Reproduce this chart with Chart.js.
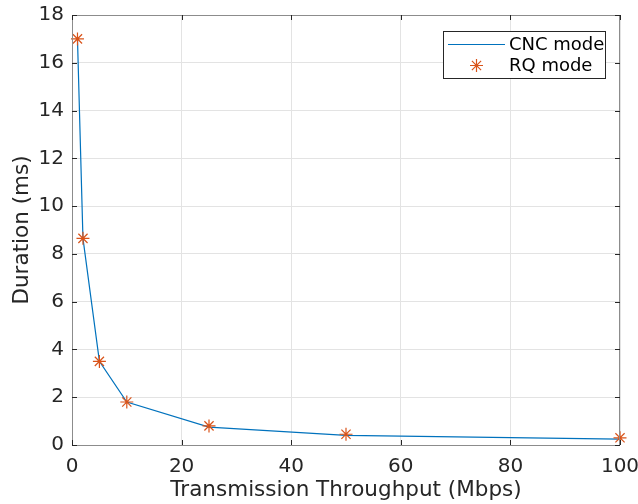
<!DOCTYPE html>
<html>
<head>
<meta charset="utf-8">
<script src="https://cdn.jsdelivr.net/npm/chart.js@4"></script>
<style>
  body { margin: 0; background: #fff; }
  canvas { display: block; }
</style>
</head>
<body>
<canvas id="duration_chart" width="638" height="504"></canvas>
<script>
// throughput in Mbps, duration in ms
const throughput = [1, 2, 5, 10, 25, 50, 100];
const cncDuration = [17, 8.65, 3.5, 1.8, 0.75, 0.4, 0.25];
const rqDuration = [17, 8.65, 3.5, 1.8, 0.8, 0.45, 0.3];
const xTicks = [0, 20, 40, 60, 80, 100];
const yTicks = [0, 2, 4, 6, 8, 10, 12, 14, 16, 18];

const textColor = '#262626';
const font = 'DejaVu Sans';

const toPoints = (xs, ys) => xs.map((x, i) => ({x: x, y: ys[i]}));

/* box round the axes + inward tick marks like MATLAB */
const axesBox = {
    id: 'axesBox',
    afterDatasetsDraw(chart) {
        const {ctx, chartArea: a, scales: {x, y}} = chart;
        ctx.save();
        ctx.strokeStyle = '#8c8c8c';
        ctx.lineWidth = 1;
        ctx.strokeRect(Math.round(a.left) + 0.5, Math.round(a.top) + 0.5,
            Math.round(a.right - a.left) - 1, Math.round(a.bottom - a.top));
        ctx.strokeStyle = textColor;
        ctx.beginPath();
        const len = 5;
        xTicks.forEach(t => {
            const px = Math.round(x.getPixelForValue(t)) + 0.5;
            ctx.moveTo(px, a.bottom); ctx.lineTo(px, a.bottom - len);
            ctx.moveTo(px, a.top); ctx.lineTo(px, a.top + len);
        });
        yTicks.forEach(t => {
            const py = Math.round(y.getPixelForValue(t)) + 0.5;
            ctx.moveTo(a.left, py); ctx.lineTo(a.left + len, py);
            ctx.moveTo(a.right, py); ctx.lineTo(a.right - len, py);
        });
        ctx.stroke();
        ctx.restore();
    }
};

/* legend drawn inside the plot, top right */
const insideLegend = {
    id: 'insideLegend',
    afterDraw(chart) {
        const ctx = chart.ctx;
        const ds = chart.data.datasets;
        const bx = 443.5, by = 31.5, bw = 162, bh = 47;
        ctx.save();
        ctx.fillStyle = '#fff';
        ctx.fillRect(bx, by, bw, bh);
        ctx.strokeStyle = textColor;
        ctx.lineWidth = 1;
        ctx.strokeRect(bx, by, bw, bh);

        ctx.font = '18px "' + font + '"';
        ctx.fillStyle = '#000';
        ctx.textBaseline = 'middle';

        // line entry
        ctx.strokeStyle = ds[0].borderColor;
        ctx.beginPath();
        ctx.moveTo(448, 44.5); ctx.lineTo(505, 44.5);
        ctx.stroke();
        ctx.fillText(ds[0].label, 509, 45);

        // marker entry
        ctx.strokeStyle = ds[1].borderColor;
        ctx.lineWidth = ds[1].borderWidth;
        Chart.helpers.drawPoint(ctx, {pointStyle: 'star', radius: ds[1].pointRadius, borderWidth: ds[1].borderWidth}, 476.5, 65.5);
        ctx.fillText(ds[1].label, 509, 66);
        ctx.restore();
    }
};

new Chart(document.getElementById('duration_chart'), {
    type: 'scatter',
    data: {
        datasets: [{
            label: 'CNC mode',
            data: toPoints(throughput, cncDuration),
            showLine: true,
            borderColor: '#0072BD',
            borderWidth: 1.2,
            pointRadius: 0,
            tension: 0,
            order: 2
        },
        {
            label: 'RQ mode',
            data: toPoints(throughput, rqDuration),
            showLine: false,
            pointStyle: 'star',
            pointRadius: 6.5,
            borderColor: '#D95319',
            backgroundColor: '#D95319',
            borderWidth: 1.2,
            clip: false,
            order: 1
        }]
    },
    options: {
        responsive: false,
        animation: false,
        layout: { padding: { top: 15, right: 18, left: 0, bottom: 0 } },
        plugins: {
            legend: { display: false },
            tooltip: { enabled: false }
        },
        scales: {
            x: {
                type: 'linear',
                min: 0,
                max: 100,
                afterFit: (s) => { s.height = 59; s.paddingLeft = 0; s.paddingRight = 0; },
                afterBuildTicks: (s) => { s.ticks = xTicks.map(v => ({value: v})); },
                grid: { color: '#e3e3e3', drawTicks: false },
                border: { display: false },
                ticks: { color: textColor, padding: 10, font: { family: font, size: 20 } },
                title: {
                    display: true,
                    text: 'Transmission Throughput (Mbps)',
                    color: textColor,
                    font: { family: font, size: 21.5 },
                    padding: { top: 0, bottom: 1 }
                }
            },
            y: {
                type: 'linear',
                min: 0,
                max: 18,
                afterFit: (s) => { s.width = 72; s.paddingTop = 0; s.paddingBottom = 0; },
                afterBuildTicks: (s) => { s.ticks = yTicks.map(v => ({value: v})); },
                grid: { color: '#e3e3e3', drawTicks: false },
                border: { display: false },
                ticks: { color: textColor, padding: 8, font: { family: font, size: 20 } },
                title: {
                    display: true,
                    text: 'Duration (ms)',
                    color: textColor,
                    font: { family: font, size: 21.5 },
                    padding: { top: 10, bottom: 0 }
                }
            }
        }
    },
    plugins: [axesBox, insideLegend]
});
</script>
</body>
</html>
